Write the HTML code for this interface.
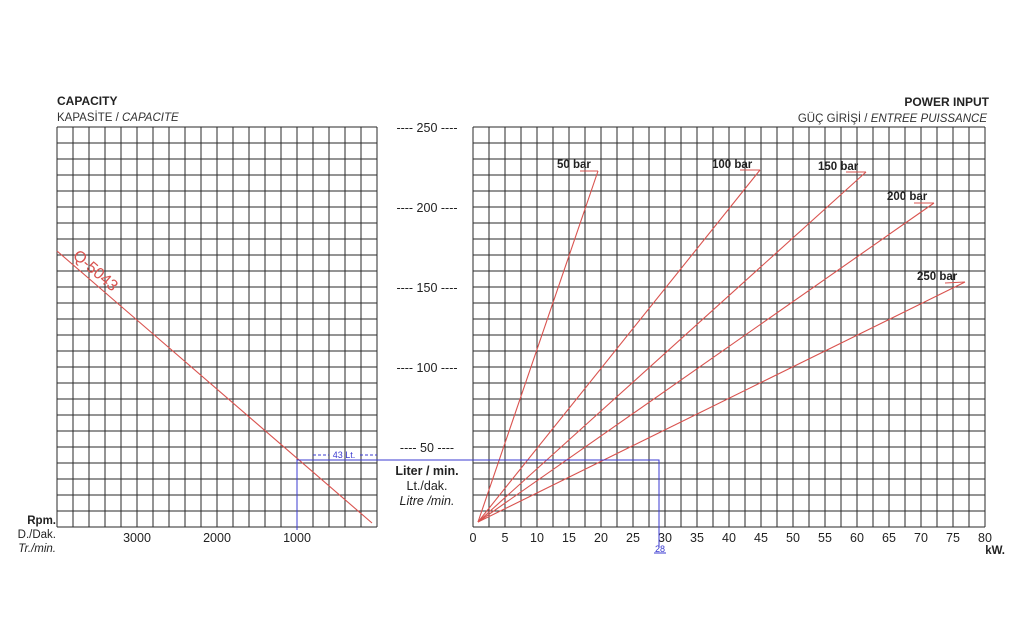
<!DOCTYPE html>
<html><head><meta charset="utf-8"><style>
html,body{margin:0;padding:0;background:#fff;width:1024px;height:640px;overflow:hidden}
svg{display:block;font-family:"Liberation Sans",Arial,sans-serif}
</style></head><body>
<svg width="1024" height="640" viewBox="0 0 1024 640" xmlns="http://www.w3.org/2000/svg">
<g stroke="#2a2a2a" stroke-width="1" fill="none">
<path d="M57 127V527M73 127V527M89 127V527M105 127V527M121 127V527M137 127V527M153 127V527M169 127V527M185 127V527M201 127V527M217 127V527M233 127V527M249 127V527M265 127V527M281 127V527M297 127V527M313 127V527M329 127V527M345 127V527M361 127V527M377 127V527"/>
<path d="M473 127V527M489 127V527M505 127V527M521 127V527M537 127V527M553 127V527M569 127V527M585 127V527M601 127V527M617 127V527M633 127V527M649 127V527M665 127V527M681 127V527M697 127V527M713 127V527M729 127V527M745 127V527M761 127V527M777 127V527M793 127V527M809 127V527M825 127V527M841 127V527M857 127V527M873 127V527M889 127V527M905 127V527M921 127V527M937 127V527M953 127V527M969 127V527M985 127V527"/>
<path d="M57 127H377M57 143H377M57 159H377M57 175H377M57 191H377M57 207H377M57 223H377M57 239H377M57 255H377M57 271H377M57 287H377M57 303H377M57 319H377M57 335H377M57 351H377M57 367H377M57 383H377M57 399H377M57 415H377M57 431H377M57 447H377M57 463H377M57 479H377M57 495H377M57 511H377M57 527H377"/>
<path d="M473 127H985M473 143H985M473 159H985M473 175H985M473 191H985M473 207H985M473 223H985M473 239H985M473 255H985M473 271H985M473 287H985M473 303H985M473 319H985M473 335H985M473 351H985M473 367H985M473 383H985M473 399H985M473 415H985M473 431H985M473 447H985M473 463H985M473 479H985M473 495H985M473 511H985M473 527H985"/>
</g>
<g font-size="11.5" fill="#222">
<text x="57" y="105" font-weight="bold" font-size="12">CAPACITY</text>
<text x="57" y="121" fill="#333">KAPASİTE / <tspan font-style="italic">CAPACITE</tspan></text>
<text x="989" y="106" text-anchor="end" font-weight="bold" font-size="12">POWER INPUT</text>
<text x="987" y="122" text-anchor="end" fill="#333">GÜÇ GİRİŞİ / <tspan font-style="italic">ENTREE PUISSANCE</tspan></text>
<g text-anchor="middle" font-size="12.5">
<text x="427" y="132">----  250  ----</text>
<text x="427" y="212">----  200  ----</text>
<text x="427" y="292">----  150  ----</text>
<text x="427" y="372">----  100  ----</text>
<text x="427" y="452">----  50  ----</text>
<text x="427" y="475" font-weight="bold">Liter / min.</text>
<text x="427" y="490">Lt./dak.</text>
<text x="427" y="505" font-style="italic">Litre /min.</text>
<text x="137" y="542">3000</text><text x="217" y="542">2000</text><text x="297" y="542">1000</text>
</g>
<text x="56" y="524" text-anchor="end" font-weight="bold">Rpm.</text>
<text x="56" y="538" text-anchor="end">D./Dak.</text>
<text x="56" y="552" text-anchor="end" font-style="italic">Tr./min.</text>
<g text-anchor="middle" font-size="12.5">
<text x="473" y="542">0</text><text x="505" y="542">5</text><text x="537" y="542">10</text><text x="569" y="542">15</text><text x="601" y="542">20</text><text x="633" y="542">25</text><text x="665" y="542">30</text><text x="697" y="542">35</text><text x="729" y="542">40</text><text x="761" y="542">45</text><text x="793" y="542">50</text><text x="825" y="542">55</text><text x="857" y="542">60</text><text x="889" y="542">65</text><text x="921" y="542">70</text><text x="953" y="542">75</text><text x="985" y="542">80</text>
</g>
<text x="1005" y="554" text-anchor="end" font-weight="bold">kW.</text>
<g font-weight="bold" font-size="11.5">
<text x="557" y="168">50 bar</text>
<text x="712" y="168">100 bar</text>
<text x="818" y="170">150 bar</text>
<text x="887" y="200">200 bar</text>
<text x="917" y="280">250 bar</text>
</g>
</g>
<g stroke="#d9534f" stroke-width="1.1" fill="none">
<line x1="57" y1="251" x2="372" y2="523"/>
<line x1="478" y1="522" x2="598" y2="171"/><line x1="580" y1="171" x2="598" y2="171"/>
<line x1="478" y1="522" x2="760" y2="170"/><line x1="740" y1="170" x2="760" y2="170"/>
<line x1="478" y1="522" x2="866" y2="172"/><line x1="846" y1="172" x2="866" y2="172"/>
<line x1="478" y1="522" x2="934" y2="203"/><line x1="914" y1="203" x2="934" y2="203"/>
<line x1="478" y1="522" x2="965" y2="282"/><line x1="945" y1="283" x2="965" y2="282"/>
</g>
<text x="72" y="257" fill="#d9534f" font-size="16" transform="rotate(41 72 257)">Q-5043</text>
<g stroke="#3b3bd0" stroke-width="1" fill="none">
<polyline points="297,530 297,460 659,460 659,548"/>
<line x1="313" y1="455" x2="329" y2="455" stroke-dasharray="3,2"/>
<line x1="360" y1="455" x2="377" y2="455" stroke-dasharray="3,2"/>
<line x1="654" y1="553" x2="666" y2="553"/>
</g>
<text x="344" y="458" fill="#3b3bd0" font-size="9" text-anchor="middle">43 Lt.</text>
<text x="660" y="552" fill="#3b3bd0" font-size="9" text-anchor="middle">28</text>
</svg>
</body></html>
